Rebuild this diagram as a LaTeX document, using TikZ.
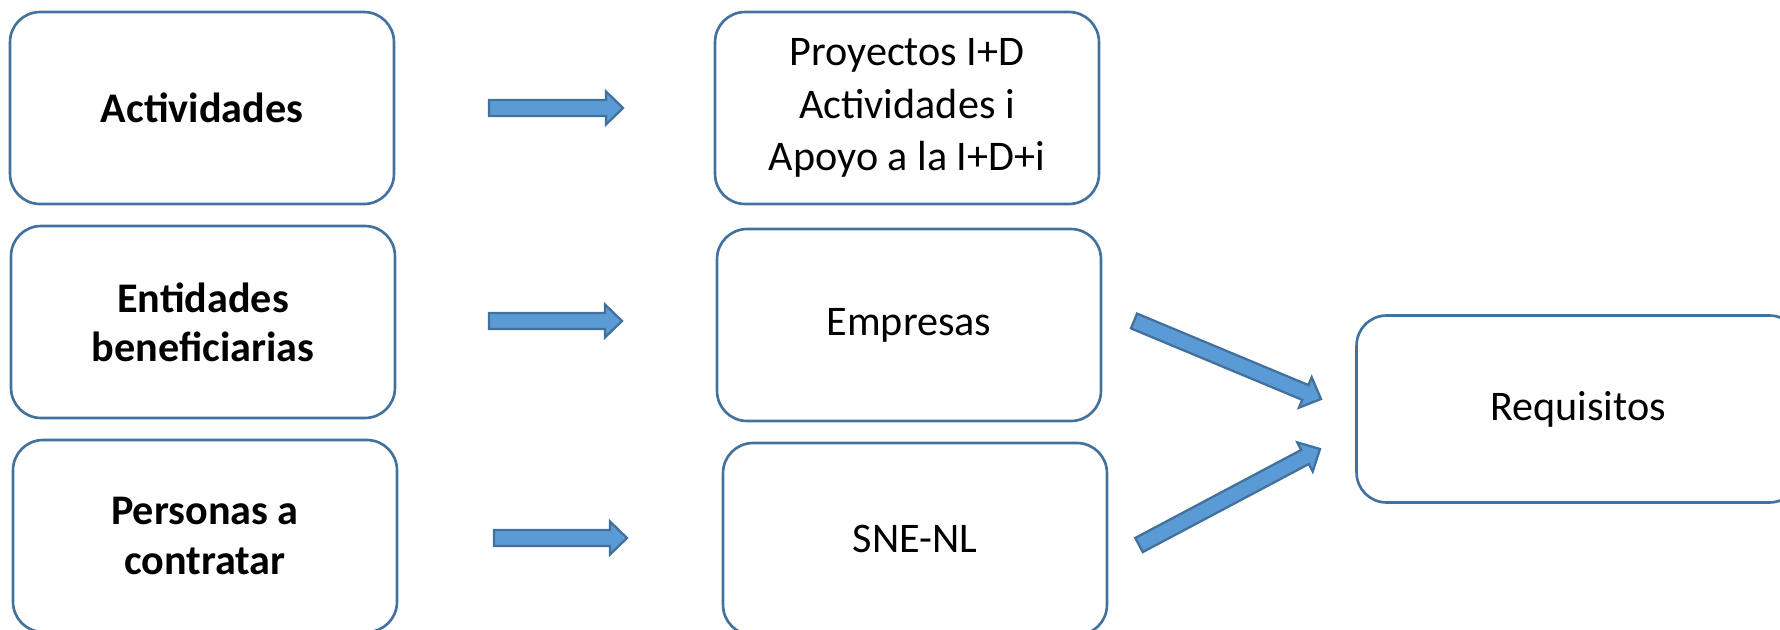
\documentclass[tikz,border=0pt]{standalone}
\usepackage{fontspec}
\setmainfont{Carlito}
\usetikzlibrary{calc}

\definecolor{boxline}{HTML}{41719C}
\definecolor{arrowfill}{HTML}{5B9BD5}

\tikzset{
    box/.style={shape=rectangle,rounded corners=0.6cm,draw=boxline,line width=1.5pt,
        minimum width=7.68cm,minimum height=3.84cm,align=center,
        font=\fontsize{24}{30}\selectfont},
    boxbold/.style={box,font=\fontsize{24}{28}\selectfont\bfseries},
    blockarr/.style={fill=arrowfill,draw=boxline,line width=1.3pt,line join=miter}
}

% fat arrow from #1 to #2
\newcommand{\blockarrow}[2]{%
    \coordinate (hb) at ($(#2)!0.34cm!(#1)$);
    \filldraw[blockarr] ($(#1)!0.16cm!90:(#2)$) -- ($(hb)!0.16cm!90:(#2)$)
        -- ($(hb)!0.33cm!90:(#2)$) -- (#2) -- ($(hb)!0.33cm!-90:(#2)$)
        -- ($(hb)!0.16cm!-90:(#2)$) -- ($(#1)!0.16cm!-90:(#2)$) -- cycle;
}

\begin{document}
\begin{tikzpicture}[x=0.02cm,y=-0.02cm]
            \useasboundingbox (0,0) rectangle (1780,629);

            \node[boxbold] (Act) at (202,108) {Actividades};
            \node[boxbold] (Ent) at (203,322) {Entidades\\beneficiarias};
            \node[boxbold] (Per) at (205,536) {Personas a\\contratar};
            \node[box] (Proy) at (907,108) {Proyectos I+D\\Actividades i\\Apoyo a la I+D+i};
            \node[box] (Emp) at (909,325) {Empresas};
            \node[box] (SNE) at (915,539) {SNE-NL};
            \node[box,minimum width=8.86cm,minimum height=3.74cm] (Req) at (1578,409) {Requisitos};

            \coordinate (a1) at (489,108);
            \coordinate (b1) at (623,108);
            \coordinate (a2) at (489,321);
            \coordinate (b2) at (622,321);
            \coordinate (a3) at (494,538);
            \coordinate (b3) at (627,538);
            \coordinate (a4) at (1134,321);
            \coordinate (b4) at (1321,399);
            \coordinate (a5) at (1139,545);
            \coordinate (b5) at (1320,449);

            \blockarrow{a1}{b1}
            \blockarrow{a2}{b2}
            \blockarrow{a3}{b3}
            \blockarrow{a4}{b4}
            \blockarrow{a5}{b5}
        \end{tikzpicture}
\end{document}
